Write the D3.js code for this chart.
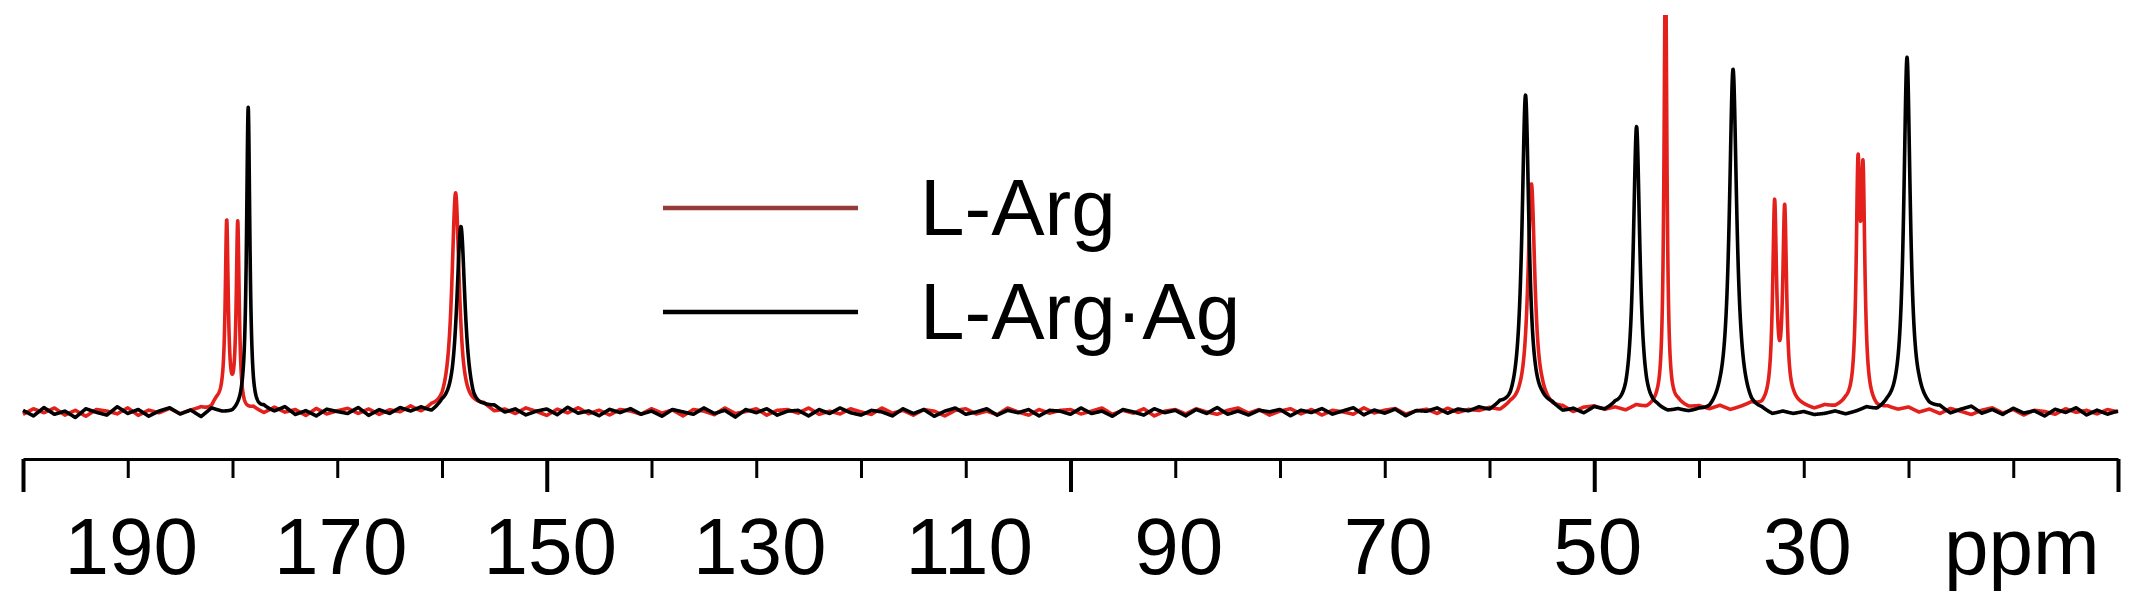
<!DOCTYPE html>
<html>
<head>
<meta charset="utf-8">
<script src="https://cdn.jsdelivr.net/npm/d3@7"></script>
<style>
    body { margin: 0; background: #fff; }
    text { font-family: "Liberation Sans", Arial, sans-serif; }
</style>
</head>
<body>
<svg id="chart" width="2141" height="612"></svg>
<script>

// Peaks: [ppm, height, fwhm in ppm]
const argPeaks = [
    [181.6, 2, 1.2],
    [180.55, 46, 0.34], [179.5, 47, 0.34],
    [158.7, 55, 0.85],
    [56.0, 58, 0.8],
    [43.2, 115, 0.32],
    [32.78, 50, 0.44], [31.82, 49, 0.44],
    [24.82, 55.5, 0.42], [24.34, 53.5, 0.42]
];

const argAgPeaks = [
    [178.5, 77, 0.38],
    [158.2, 46, 0.95],
    [56.56, 80, 0.8],
    [45.96, 72, 0.75],
    [36.75, 87, 0.85],
    [20.14, 90, 0.75]
];

// baseline wiggle, one value per ppm from 200 down to 0
const argNoise = [
    -0.6,0.8,-0.2,1.0,-0.8,0.4,-1.1,0.6,0.2,-0.5,1.0,-0.9,0.4,-0.3,0.8,-0.6,0.2,0.7,-0.5,1.1,
    0.4,-0.8,0.6,-0.5,1.0,-0.2,0.5,-1.0,0.8,-0.6,0.2,0.8,-0.5,0.6,-0.8,0.3,-0.3,1.0,-0.6,0.4,
    -0.3,0.6,-0.8,0.4,1.1,-0.4,0.3,-0.7,0.8,0.0,-1.0,0.6,-0.3,1.0,-0.5,0.4,-0.8,0.6,0.2,-0.6,
    0.8,-0.3,0.5,-1.0,0.6,0.2,-0.7,1.0,-0.4,0.1,0.8,-0.8,0.4,0.6,-0.3,1.0,-0.6,0.2,-0.5,0.8,
    0.0,-0.6,1.0,-0.3,0.4,-0.8,0.6,0.2,-1.0,0.4,0.8,-0.5,0.2,-0.7,1.0,0.0,-0.8,0.6,-0.3,0.4,
    0.6,-0.5,0.2,1.0,-0.6,0.4,-0.3,0.8,-1.0,0.2,0.6,-0.5,0.8,0.0,-0.6,0.4,1.0,-0.3,0.6,-0.8,
    0.2,0.8,-0.5,0.6,-0.8,0.4,0.0,-0.6,1.0,-0.3,0.4,0.8,-0.6,0.2,0.6,-0.5,0.8,-0.3,0.4,0.0,
    0.6,-0.3,0.8,0.4,-0.6,1.0,0.2,0.6,-0.5,0.8,1.2,0.4,1.0,0.2,1.4,0.6,1.2,0.4,1.6,0.8,
    1.2,0.5,1.4,0.3,1.0,1.8,0.7,1.2,0.5,1.6,1.0,0.3,1.2,0.7,1.4,0.5,1.0,0.1,0.8,0.3,
    1.0,-0.2,0.6,-0.5,0.8,0.1,-0.7,0.4,1.0,-0.3,0.6,-0.8,0.4,0.1,-0.6,0.8,-0.1,0.4,-0.5,0.6,
    0.0
];

const argAgNoise = [
    0.4,-1.0,1.1,-0.6,0.2,-1.4,0.8,-0.1,-0.8,1.3,-0.4,0.6,-1.1,0.2,1.0,-0.6,0.4,-1.3,0.8,-0.2,
    -0.6,0.4,-1.0,0.6,-0.2,1.1,-0.8,0.2,-1.1,0.6,0.0,-0.5,1.0,-1.0,0.4,-0.6,0.8,-0.2,0.6,-0.8,
    0.4,-0.5,1.0,-1.1,0.2,0.8,-0.6,0.4,-1.0,0.0,0.6,-0.8,1.1,-0.4,0.2,-1.0,0.6,-0.2,0.8,-0.6,
    0.2,-1.1,0.6,0.0,-0.6,1.0,-0.4,0.4,-1.3,0.6,-0.2,0.8,-0.8,0.2,0.4,-1.0,0.6,-0.4,1.0,-0.2,
    -0.8,0.4,0.0,-1.0,0.8,-0.4,0.6,-1.1,0.2,1.0,-0.6,0.0,0.8,-0.8,0.4,-0.2,0.6,-1.0,0.4,0.2,
    -0.6,1.0,-0.4,0.2,-1.1,0.6,0.0,-0.8,0.8,-0.2,0.4,-1.0,0.6,-0.4,1.1,-0.6,0.2,-0.8,0.4,0.0,
    0.6,-1.0,0.4,-0.2,0.8,-0.6,0.2,1.0,-0.8,0.4,-0.4,0.6,-1.1,0.2,0.0,0.8,-0.6,0.4,-0.2,0.6,
    -0.4,0.8,-0.6,0.2,-1.0,0.4,0.6,-0.8,0.0,-1.1,0.4,-0.6,0.2,-1.0,-0.4,-1.3,-0.6,-1.1,-0.4,-1.0,
    -0.8,-1.5,-0.6,-1.1,-0.2,-1.3,-0.8,-1.6,-0.6,-1.0,-0.4,-1.1,-0.8,-0.2,-1.0,-0.4,0.4,-0.6,0.2,-0.4,
    -0.8,0.6,-0.2,0.4,-1.0,0.2,1.1,-0.6,0.4,-0.8,0.8,-0.4,0.2,-1.1,0.6,-0.2,1.0,-0.8,0.4,-0.6,
    0.2
];

const seriesNames = ["L-Arg", "L-Arg\u00b7Ag"];

const minorTicks = [190, 180, 170, 160, 140, 130, 120, 110, 90, 80, 70, 60, 40, 30, 20, 10];
const majorTicks = [200, 150, 100, 50, 0];
const labelTicks = [190, 170, 150, 130, 110, 90, 70, 50, 30];
const unitTick = 10;
const unitLabel = "ppm";


const svg = d3.select("#chart");
const width = 2141, height = 612;

svg.append("rect").attr("width", width).attr("height", height).attr("fill", "#fff");

// ppm runs right to left
const x = d3.scaleLinear().domain([200, 0]).range([23, 2118]);
const y = d3.scaleLinear().domain([0, 100]).range([412, 15]);

const noisePpm = d3.range(200, -0.5, -1);
const samplePpm = d3.range(200, -0.001, -0.02);

// lorentzian lines on top of the typed baseline
const spectrum = (peaks, noise) => {
    let base = d3.scaleLinear().domain(noisePpm).range(noise);
    return samplePpm.map(p => [
        p,
        base(p) + d3.sum(peaks, ([c, h, w]) => h / (1 + ((p - c) / (w / 2)) ** 2))
    ]);
};

svg.append("clipPath").attr("id", "plotClip")
    .append("rect")
    .attr("x", 0).attr("y", 15)
    .attr("width", width).attr("height", 445);

const line = d3.line()
    .x(d => x(d[0]))
    .y(d => y(d[1]));

const traces = [
    { name: seriesNames[0], data: spectrum(argPeaks, argNoise), color: "#e3201b" },
    { name: seriesNames[1], data: spectrum(argAgPeaks, argAgNoise), color: "#000" }
];

svg.append("g")
    .attr("clip-path", "url(#plotClip)")
    .selectAll("path")
    .data(traces)
    .join("path")
    .attr("d", d => line(d.data))
    .attr("fill", "none")
    .attr("stroke", d => d.color)
    .attr("stroke-width", 3.6)
    .attr("stroke-linejoin", "round");


// Axis
const axisY = 459;

const minorAxis = svg.append("g")
    .attr("transform", `translate(0,${axisY})`)
    .call(d3.axisBottom(x).tickValues(minorTicks).tickSize(19).tickSizeOuter(0).tickFormat(""));
minorAxis.select(".domain").remove();
minorAxis.selectAll("line").attr("stroke-width", 3);

const majorAxis = svg.append("g")
    .attr("transform", `translate(0,${axisY})`)
    .call(d3.axisBottom(x).tickValues(majorTicks).tickSize(33).tickSizeOuter(0).tickFormat(""));
majorAxis.select(".domain").attr("stroke-width", 3);
majorAxis.selectAll("line").attr("stroke-width", 4);

const labelAxis = svg.append("g")
    .attr("transform", `translate(0,${axisY})`)
    .call(d3.axisBottom(x)
        .tickValues(labelTicks.concat([unitTick]))
        .tickSize(0)
        .tickPadding(58)
        .tickFormat(d => d === unitTick ? unitLabel : d));
labelAxis.select(".domain").remove();
labelAxis.attr("font-family", null).attr("font-size", null);
labelAxis.selectAll("text")
    .attr("font-size", 80)
    .attr("fill", "#000")
    .attr("dx", d => d === unitTick ? 8 : 3);


// Legend
const legend = svg.append("g")
    .selectAll("g")
    .data(traces)
    .join("g")
    .attr("transform", (d, i) => `translate(0,${208 + i * 104})`);

legend.append("line")
    .attr("x1", 663).attr("x2", 858)
    .attr("stroke", (d, i) => i === 0 ? "#963a3a" : "#000")
    .attr("stroke-width", 4.5);

legend.append("text")
    .attr("x", 920)
    .attr("y", 27)
    .attr("font-size", 80)
    .text(d => d.name);

</script>
</body>
</html>
